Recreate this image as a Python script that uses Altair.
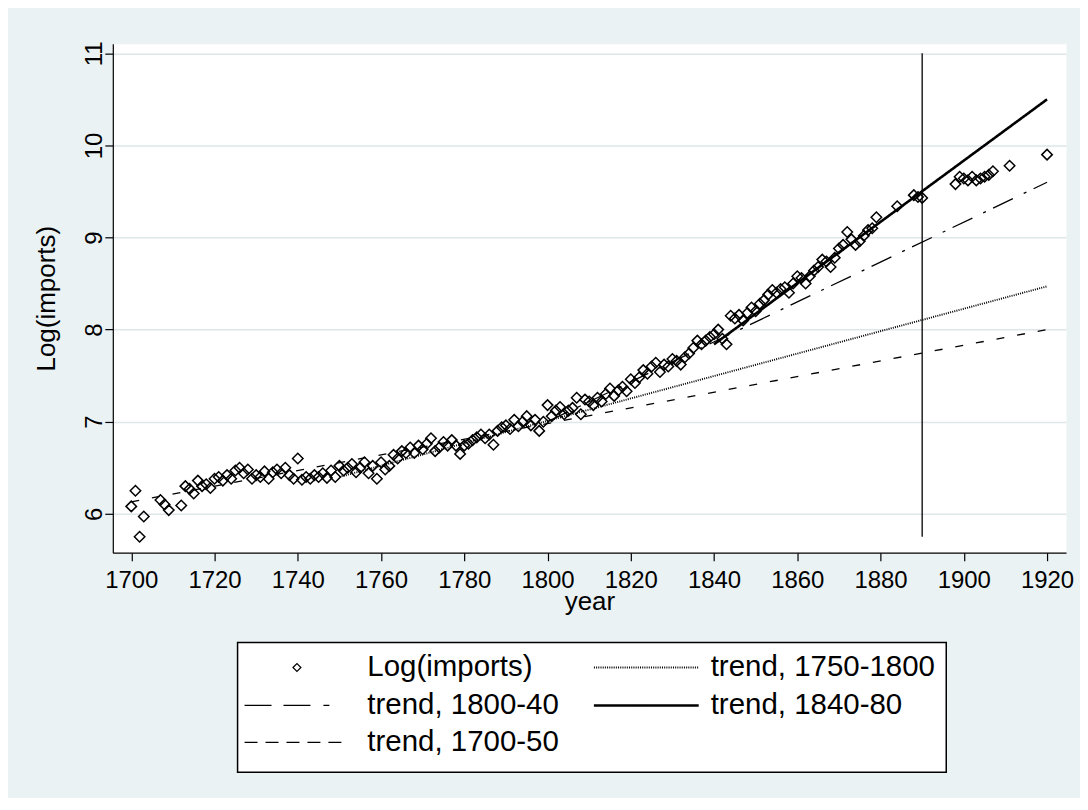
import altair as alt
import pandas as pd

# ---------------- data ----------------
years = [1700, 1701, 1702, 1703, 1707, 1708, 1709, 1712, 1713, 1714, 1715, 1716, 1717, 1718, 1719,
         1720, 1721, 1722, 1723, 1724, 1725, 1726, 1727, 1728, 1729, 1730, 1731, 1732, 1733, 1734,
         1735, 1736, 1737, 1738, 1739, 1740, 1741, 1742, 1743, 1744, 1745, 1746, 1747, 1748, 1749,
         1750, 1751, 1752, 1753, 1754, 1755, 1756, 1757, 1758, 1759, 1760, 1761, 1762, 1763, 1764,
         1765, 1766, 1767, 1768, 1769, 1770, 1771, 1772, 1773, 1774, 1775, 1776, 1777, 1778, 1779,
         1780, 1781, 1782, 1783, 1784, 1785, 1786, 1787, 1788, 1789, 1790, 1791, 1792, 1793, 1794,
         1795, 1796, 1797, 1798, 1799, 1800, 1801, 1802, 1803, 1804, 1805, 1806, 1807, 1808, 1809,
         1810, 1811, 1812, 1813, 1814, 1815, 1816, 1817, 1818, 1819, 1820, 1821, 1822, 1823, 1824,
         1825, 1826, 1827, 1828, 1829, 1830, 1831, 1832, 1833, 1834, 1835, 1836, 1837, 1838, 1839,
         1840, 1841, 1842, 1843, 1844, 1845, 1846, 1847, 1848, 1849, 1850, 1851, 1852, 1853, 1854,
         1855, 1856, 1857, 1858, 1859, 1860, 1861, 1862, 1863, 1864, 1865, 1866, 1867, 1868, 1869,
         1870, 1871, 1872, 1873, 1874, 1875, 1876, 1877, 1878, 1879, 1884, 1888, 1889, 1890,
         1898, 1899, 1900, 1901, 1902, 1903, 1904, 1905, 1906, 1907, 1911, 1920]
log_imports = [6.08, 6.25, 5.75, 5.97, 6.15, 6.10, 6.04, 6.09, 6.30, 6.27, 6.22, 6.36, 6.30, 6.32, 6.28,
               6.38, 6.40, 6.36, 6.42, 6.38, 6.47, 6.50, 6.44, 6.48, 6.38, 6.42, 6.40, 6.46, 6.38, 6.45,
               6.48, 6.44, 6.50, 6.42, 6.38, 6.60, 6.37, 6.40, 6.38, 6.42, 6.40, 6.44, 6.39, 6.47, 6.40,
               6.52, 6.47, 6.50, 6.54, 6.45, 6.50, 6.56, 6.44, 6.52, 6.38, 6.56, 6.48, 6.52, 6.64, 6.60,
               6.68, 6.66, 6.72, 6.66, 6.74, 6.70, 6.76, 6.82, 6.68, 6.72, 6.78, 6.74, 6.80, 6.74, 6.65,
               6.74, 6.76, 6.80, 6.83, 6.86, 6.82, 6.86, 6.75, 6.90, 6.94, 6.96, 6.92, 7.02, 6.95, 7.00,
               7.06, 6.96, 7.02, 6.90, 7.00, 7.18, 7.06, 7.12, 7.16, 7.08, 7.12, 7.15, 7.26, 7.08, 7.24,
               7.22, 7.18, 7.26, 7.22, 7.30, 7.36, 7.28, 7.34, 7.38, 7.33, 7.46, 7.42, 7.48, 7.56, 7.52,
               7.60, 7.64, 7.54, 7.62, 7.60, 7.68, 7.66, 7.62, 7.70, 7.74, 7.80, 7.88, 7.84, 7.88, 7.92,
               7.95, 8.00, 7.90, 7.84, 8.15, 8.12, 8.16, 8.10, 8.18, 8.24, 8.20, 8.28, 8.32, 8.38, 8.43,
               8.40, 8.44, 8.46, 8.40, 8.50, 8.58, 8.56, 8.50, 8.58, 8.64, 8.68, 8.76, 8.74, 8.68, 8.78,
               8.88, 8.92, 9.06, 8.98, 8.92, 8.96, 9.02, 9.08, 9.10, 9.22, 9.34, 9.46, 9.44, 9.43,
               9.58, 9.66, 9.64, 9.62, 9.66, 9.62, 9.64, 9.66, 9.68, 9.72, 9.78, 9.90]

trend_labels = ["trend, 1700-50", "trend, 1750-1800", "trend, 1800-40", "trend, 1840-80"]
trend_start_year = [1700, 1750, 1800, 1840]
trend_end_year = [1920, 1920, 1920, 1920]
trend_start_val = [6.13, 6.40, 7.00, 7.84]
trend_end_val = [8.00, 8.47, 9.60, 10.50]

vline_year = [1890, 1890]
vline_vals = [5.75, 11.0]

x_ticks = [1700, 1720, 1740, 1760, 1780, 1800, 1820, 1840, 1860, 1880, 1900, 1920]
y_ticks = [6, 7, 8, 9, 10, 11]
points_label = "Log(imports)"

# ---------------- styling / layout ----------------
FONT = "Liberation Sans"
FS_TICK = 24
FS_TITLE = 26
FS_LEG = 29.5
BG = "#eaf2f3"
GRID = "#dde6e9"
W, H = 955, 510
X_DOMAIN = [1695.56, 1924.56]
Y_DOMAIN = [5.577, 11.105]

line_styles = {
    "trend, 1700-50": dict(strokeDash=[8, 13], strokeWidth=1.3),
    "trend, 1750-1800": dict(strokeDash=[1, 1.2], strokeWidth=1.9),
    "trend, 1800-40": dict(strokeDash=[22, 12, 3, 8], strokeWidth=1.3),
    "trend, 1840-80": dict(strokeDash=[1, 0], strokeWidth=2.6),
}
legend_styles = {
    "trend, 1700-50": dict(strokeDash=[13, 8], strokeWidth=1.3),
    "trend, 1750-1800": dict(strokeDash=[1, 1.2], strokeWidth=1.9),
    "trend, 1800-40": dict(strokeDash=[27, 12, 27, 13, 6, 30], strokeWidth=1.3),
    "trend, 1840-80": dict(strokeDash=[1, 0], strokeWidth=2.6),
}

xs = alt.Scale(domain=X_DOMAIN, nice=False, zero=False)
ys = alt.Scale(domain=Y_DOMAIN, nice=False, zero=False)

x_axis = alt.Axis(values=x_ticks, title="year", grid=False, format="d",
                  domainColor="black", domainWidth=1.2, tickColor="black", tickWidth=1.2, tickSize=8,
                  labelFont=FONT, labelFontSize=FS_TICK, labelColor="black", labelBaseline="alphabetic",
                  labelPadding=27, labelFlush=False, labelOverlap=False,
                  titleFont=FONT, titleFontSize=FS_TITLE, titleFontWeight="normal", titleColor="black",
                  titleX=W / 2, titleY=57, titleBaseline="alphabetic", titleAlign="center")
y_axis = alt.Axis(values=y_ticks, title="Log(imports)", grid=True, gridColor=GRID, gridWidth=1.5,
                  domainColor="black", domainWidth=1.2, tickColor="black", tickWidth=1.2, tickSize=8,
                  labelFont=FONT, labelFontSize=FS_TICK, labelColor="black", labelAngle=270,
                  labelAlign="center", labelBaseline="alphabetic", labelPadding=3,
                  labelFlush=False, labelOverlap=False,
                  titleFont=FONT, titleFontSize=FS_TITLE, titleFontWeight="normal", titleColor="black",
                  titleAngle=270, titleX=-58, titleY=H / 2, titleBaseline="alphabetic",
                  titleAlign="center")

X = alt.X("year:Q", scale=xs, axis=x_axis)
Y = alt.Y("v:Q", scale=ys, axis=y_axis)

pts_df = pd.DataFrame({"year": years, "v": log_imports})
points = alt.Chart(pts_df).mark_point(shape="diamond", filled=False, size=110,
                                      color="black", strokeWidth=1.5, opacity=1).encode(x=X, y=Y)

layers = [points]
for name, x0, x1, v0, v1 in zip(trend_labels, trend_start_year, trend_end_year,
                                trend_start_val, trend_end_val):
    df = pd.DataFrame({"year": [x0, x1], "v": [v0, v1]})
    layers.append(alt.Chart(df).mark_line(color="black", **line_styles[name]).encode(x=X, y=Y))

vdf = pd.DataFrame({"year": vline_year, "v": vline_vals})
layers.append(alt.Chart(vdf).mark_line(color="black", strokeWidth=1.3).encode(x=X, y=Y))

# ---------------- legend (manual, below plot) ----------------
LBOX = dict(x0=125, x1=835, y0=600, y1=730)
ROWS = [625, 663, 700]
COL_LINE = [(132, 237), (482, 587)]
COL_TEXT = [255, 599]
legend_items = [
    (points_label, 0, 0),
    ("trend, 1750-1800", 1, 0),
    ("trend, 1800-40", 0, 1),
    ("trend, 1840-80", 1, 1),
    ("trend, 1700-50", 0, 2),
]

one = pd.DataFrame({"k": [0]})
layers.append(alt.Chart(one).mark_rect(fill="white", stroke="black", strokeWidth=1.5).encode(
    x=alt.value(LBOX["x0"]), x2=alt.value(LBOX["x1"]),
    y=alt.value(LBOX["y0"]), y2=alt.value(LBOX["y1"])))

for label, c, r in legend_items:
    yrow = ROWS[r]
    if label == points_label:
        layers.append(alt.Chart(one).mark_point(shape="diamond", filled=False, size=64,
                                                color="black", strokeWidth=1.2, opacity=1).encode(
            x=alt.value((COL_LINE[c][0] + COL_LINE[c][1]) / 2), y=alt.value(yrow)))
    else:
        layers.append(alt.Chart(one).mark_rule(color="black", **legend_styles[label]).encode(
            x=alt.value(COL_LINE[c][0]), x2=alt.value(COL_LINE[c][1]), y=alt.value(yrow)))
    tdf = pd.DataFrame({"label": [label]})
    layers.append(alt.Chart(tdf).mark_text(align="left", baseline="middle", font=FONT,
                                           fontSize=FS_LEG, color="black").encode(
        x=alt.value(COL_TEXT[c]), y=alt.value(yrow), text="label:N"))

chart = alt.layer(*layers).properties(
    width=W, height=H, background=BG,
    autosize=alt.AutoSizeParams(type="none"),
    padding={"left": 105, "top": 35, "right": 14, "bottom": 245},
).configure_view(fill="white", stroke="transparent")

chart.save("out.html", embed_options={"renderer": "svg", "actions": False})
